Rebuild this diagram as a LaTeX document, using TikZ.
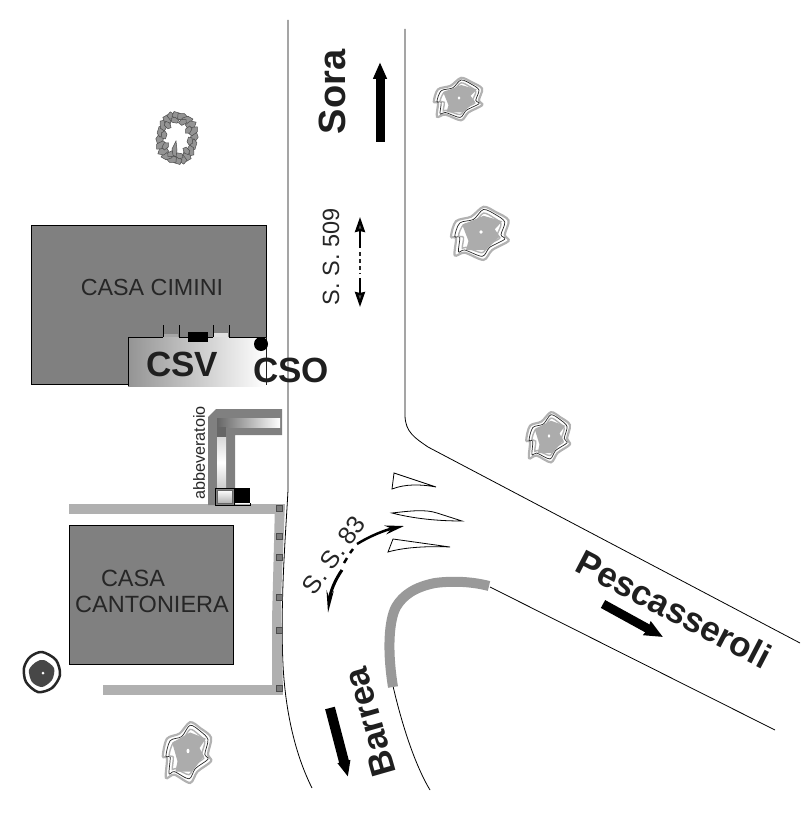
\documentclass[tikz,border=0pt]{standalone}
\usepackage{fontspec}
\setmainfont{Liberation Sans}
\usetikzlibrary{arrows.meta}
\definecolor{housegray}{gray}{0.5}
\definecolor{wallgray}{gray}{0.69}
\definecolor{arcgray}{gray}{0.6}
\tikzset{
  road/.style={draw=black,line width=0.8pt},
  house/.style={fill=housegray,draw=black,line width=1pt},
  wall/.style={fill=wallgray,draw=none},
  post/.style={fill=wallgray!70!black,draw=black!70,line width=0.6pt},
  island/.style={draw=black,fill=white,line width=0.8pt},
  bigtxt/.style={font=\bfseries\fontsize{35}{35}\selectfont,text=black!88,inner sep=0pt},
  smalltxt/.style={font=\fontsize{23.5}{23.5}\selectfont,text=black!85,inner sep=0pt},
  shard/.style={fill=black!42,draw=black!70,line width=0.5pt},
  shrub/.pic={
    \draw[gray!60,line width=2.2pt,smooth cycle] plot coordinates {(2,-28) (12,-22) (22,-13) (19,3) (22,10) (9,20) (2,31) (-13,23) (-21,26) (-20,7) (-24,5) (-20,-12) (-8,-17)};
    \draw[black!85,line width=0.7pt,smooth cycle] plot coordinates {(2,-25) (12,-19) (19,-11) (16,3) (19,8) (7,17) (1,27) (-13,20) (-18,22) (-17,6) (-21,5) (-17,-10) (-6,-14)};
    \draw[gray!60,line width=1.4pt,smooth cycle] plot coordinates {(2,-21) (10,-16) (16,-9) (13,3) (15,7) (6,14) (1,23) (-12,17) (-15,18) (-14,6) (-18,4) (-14,-8) (-5,-11)};
    \fill[gray!65] (2,-18) -- (17,-12) -- (11,-3) -- (15,5) -- (4,20) -- (-12,20) -- (-10,10) -- (-15,-8) -- cycle;
    \fill[white] (0,0) ellipse (1.4 and 2.2);
  }
}
\begin{document}
\begin{tikzpicture}[x=1pt,y=-1pt]
  \useasboundingbox (0,0) rectangle (811,813);
  % roads
  \draw[road] (288,20) -- (288,490) .. controls (286,530) and (280,600) .. (283,665) .. controls (286,720) and (298,760) .. (312,788);
  \draw[road] (405,29) -- (405,415) .. controls (405,432) and (415,438) .. (428,447) -- (800,643);
  \draw[road] (490,587) -- (775,730);
  \draw[road] (393,686) .. controls (402,725) and (415,765) .. (430,790);
  \draw[arcgray,line width=10pt] (489,586) .. controls (470,581) and (450,581) .. (435,583) .. controls (415,587) and (403,595) .. (396,607) .. controls (389,620) and (387,650) .. (393,687);
  % islands
  \draw[island] (394,473) -- (436,487) .. controls (420,484) and (405,484) .. (392,489) -- cycle;
  \draw[island] (392,513) .. controls (410,511) and (425,509) .. (437,513) -- (462,521) .. controls (440,521) and (415,519) .. cycle;
  \draw[island] (393,539) -- (450,547) .. controls (430,546) and (405,547) .. (388,552) -- cycle;
  % casa cimini
  \draw[house] (31,225) rectangle (266,384);
  \fill[left color=black!42,right color=white,draw=none] (128,337) rectangle (266,386);
  \draw[black,line width=1pt] (128,386) -- (128,337) -- (163,337) (179,337) -- (188,337) (208,337) -- (213,337) (229,337) -- (266,337);
  \draw[black,line width=0.8pt] (163,325) -- (163,337) (179,325) -- (179,337) (213,325) -- (213,337) (229,325) -- (229,337);
  \fill[black!35] (164,334) rectangle (178,337);
  \fill[black!12] (214,333) rectangle (228,337);
  \fill[black] (188,332) rectangle (208,342);
  \fill[black] (261,344) circle (7);
  \node[font=\fontsize{23.3}{23.3}\selectfont,text=black!85,inner sep=0pt] (cimini) at (152,287) {CASA CIMINI};
  \node[bigtxt] (csv) at (182,364) {CSV};
  \node[bigtxt] (cso) at (291,370) {CSO};
  % casa cantoniera
  \draw[house] (69,525) rectangle (233,664);
  \node[font=\fontsize{23.5}{23.5}\selectfont,text=black!85,inner sep=0pt] (casa) at (133,578) {CASA};
  \node[font=\fontsize{23.5}{23.5}\selectfont,text=black!85,inner sep=0pt] (cantoniera) at (152,604) {CANTONIERA};
  % walls
  \fill[wall] (69,504) rectangle (284,514);
  \fill[wall] (275,504) -- (285,504) -- (281,600) -- (283,693) -- (272,693) -- (272,620) -- cycle;
  \fill[wall] (103,685) rectangle (283,695);
  \foreach \y in {508,536,557,597,630,688}
    \draw[post] (276,\y-3) rectangle (282,\y+3);
  % abbeveratoio
  \fill[black!50] (208,417) -- (216,409) -- (282,409) -- (282,435) -- (235,435) -- (235,505) -- (208,505) -- cycle;
  \fill[left color=black!60,right color=white,draw=none] (217,418) rectangle (280,427);
  \fill[black!60] (217,427) rectangle (226,437);
  \fill[top color=black!15,bottom color=black!20,middle color=white,draw=none] (217,437) rectangle (226,488);
  \draw[black,line width=0.8pt] (215,488) rectangle (234,505);
  \fill[top color=white,bottom color=black!30,draw=black!60,line width=0.6pt] (217,490) rectangle (232,503);
  \fill[black] (234,488) rectangle (250,503);
  \draw[black,line width=0.6pt] (234,505) -- (250,505) -- (250,503);
  \node[rotate=90,font=\fontsize{16.2}{16.2}\selectfont,text=black!85,inner sep=0pt] (abbev) at (199,453) {abbeveratoio};
  % labels and arrows
  \node[rotate=90,bigtxt,font=\bfseries\fontsize{38}{38}\selectfont] (sora) at (332,92) {Sora};
  \draw[-{Triangle[length=17pt,width=13pt]},line width=9pt,black] (380,142) -- (380,62);
  \node[rotate=90,smalltxt] (ss509) at (331,257) {S. S. 509};
  \draw[-{Stealth[length=15pt,width=10pt,inset=1pt,fill=black!65]},black,line width=2.4pt] (360,248) -- (360,217);
  \draw[-{Stealth[length=15pt,width=10pt,inset=1pt,fill=black!65]},black,line width=2.4pt] (360,278) -- (360,307);
  \draw[black!85,line width=2pt,dash pattern=on 4pt off 3pt] (360,252) -- (360,274);
  \node[rotate=54,smalltxt,font=\fontsize{25}{25}\selectfont] (ss83) at (334,555) {S. S. 83};
  \draw[-{Stealth[length=19pt,width=9pt]},line width=2.5pt] (357,544) .. controls (370,536) and (385,530) .. (404,526);
  \draw[-{Stealth[length=22pt,width=7pt]},line width=3pt] (342,570) .. controls (335,580) and (330,592) .. (328,613);
  \draw[line width=2.5pt] (353,549) -- (350,553) (347,558) -- (344,563);
  \node[rotate=106,bigtxt] (barrea) at (370,722) {Barrea};
  \draw[-{Triangle[length=16pt,width=12pt]},line width=10pt] (330,708) -- (348,777);
  \node[rotate=-27.5,bigtxt] (pesc) at (674,609) {Pescasseroli};
  \draw[-{Stealth[length=18pt,width=15pt,inset=1pt]},line width=9pt] (603,604) -- (663,637);
  % trees
  \pic[xscale=1.05,yscale=.72] at (459,98) {shrub};
  \pic[xscale=1.25,yscale=.9] at (481,232) {shrub};
  \pic[xscale=.95,yscale=.85] at (549,436) {shrub};
  \pic[xscale=1.05,yscale=1.03] at (188,751) {shrub};
  \foreach \a in {0,18,...,342}
    \filldraw[shard,shift={({177+17*cos(\a)},{138+22*sin(\a)})},rotate=\a+55] (-5,-2) -- (1,-4) -- (6,-1) -- (3,3) -- (-4,3) -- cycle;
  \foreach \a in {9,45,...,351}
    \filldraw[shard,shift={({177+13*cos(\a)},{138+18*sin(\a)})},rotate=\a+100] (-4,-2) -- (0,-3) -- (4,0) -- (2,3) -- (-3,2) -- cycle;
  \filldraw[shard] (172,149) -- (176,141) -- (177,150) -- (176,157) -- (173,155) -- cycle;
  \draw[black!85,line width=2.5pt,smooth cycle] plot coordinates {(42,652) (56,660) (60,675) (52,688) (38,692) (26,682) (24,668) (30,657)};
  \fill[black!72,smooth cycle] plot coordinates {(44,660) (54,668) (52,680) (42,687) (32,682) (29,670) (36,662)};
  \fill[white] (43,673) circle (1.5);
\end{tikzpicture}
\end{document}
